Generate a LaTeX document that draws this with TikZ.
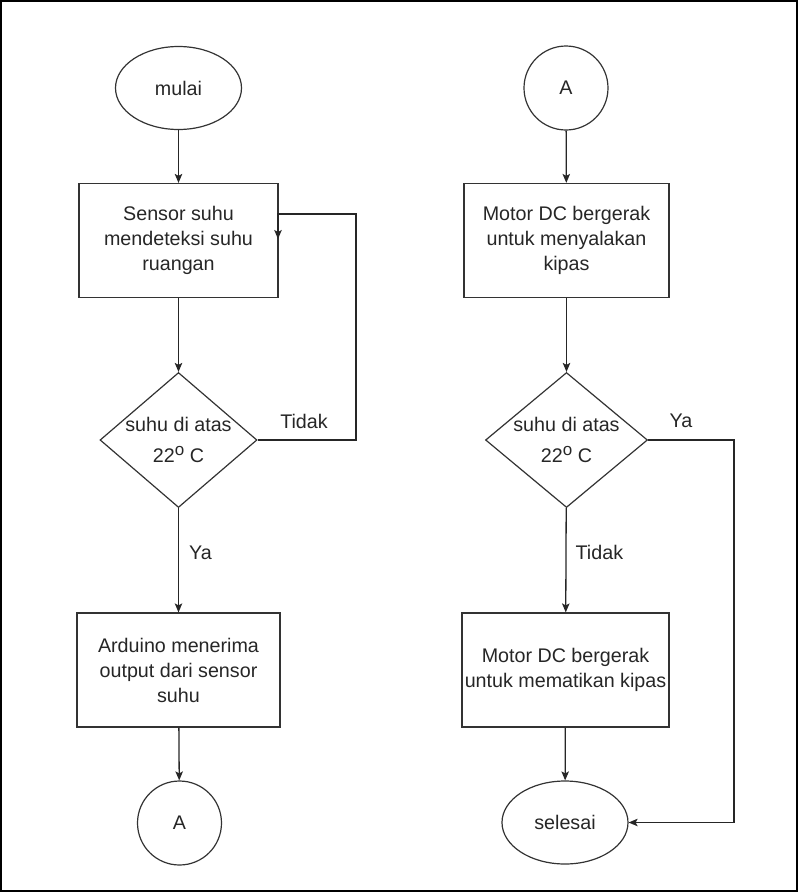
\documentclass[tikz,border=0pt]{standalone}
\usepackage{fontspec}
\setmainfont{Liberation Sans}
\usetikzlibrary{shapes.geometric,arrows.meta}
\newcommand{\degsup}{\raisebox{7pt}{\fontsize{17}{17}\selectfont o}}
\begin{document}
\begin{tikzpicture}[x=1pt,y=-1pt,
  every node/.style={font=\fontsize{19.7}{25}\selectfont, text=black!85, align=center},
  proc/.style={draw=black!80, line width=1.2pt, rectangle, minimum height=114pt, inner sep=0pt},
  term/.style={draw=black!80, line width=1.2pt, ellipse, minimum width=126pt, minimum height=83pt, inner sep=0pt},
  conn/.style={draw=black!80, line width=1.2pt, circle, minimum size=84pt, inner sep=0pt},
  dec/.style={draw=black!80, line width=1.2pt, diamond, minimum width=160pt, minimum height=135pt, inner sep=0pt},
  dtext/.style={font=\fontsize{19.7}{31.5}\selectfont, inner sep=0pt},
  flow/.style={draw=black!85, line width=1.3pt, -{Stealth[length=9pt,width=7.5pt,inset=2pt]}},
  lbl/.style={inner sep=0pt}
]
\useasboundingbox (0,0) rectangle (798,892);
\draw[line width=2pt] (1,1) rectangle (796.5,890.5);

% left column
\node[term] (mulai) at (178.5,88) {mulai};
\node[proc, minimum width=199pt] (s1) at (178.5,240.5) {Sensor suhu\\mendeteksi suhu\\ruangan};
\node[dec, minimum width=157pt] (d1) at (178.5,440) {};
\node[dtext] (d1t) at (d1.center) {suhu di atas\\22\degsup\ C};
\node[proc, minimum width=203pt] (ard) at (178.5,670) {Arduino menerima\\output dari sensor\\suhu};
\node[conn] (a1) at (179.5,823) {A};

% right column
\node[conn] (a2) at (566,88) {A};
\node[proc, minimum width=205pt] (m1) at (566.5,240.5) {Motor DC bergerak\\untuk menyalakan\\kipas};
\node[dec, minimum width=162pt] (d2) at (566.5,440) {};
\node[dtext] (d2t) at (d2.center) {suhu di atas\\22\degsup\ C};
\node[proc, minimum width=207pt] (m2) at (565.5,670) {Motor DC bergerak\\untuk mematikan kipas};
\node[term] (selesai) at (565,822.5) {selesai};

% connectors left
\draw[flow] (mulai) -- (s1);
\draw[flow] (s1) -- (d1);
\draw[flow] (d1) -- node[lbl, pos=0.43, right=10pt] (ya1) {Ya} (ard);
\draw[flow] (ard) -- (a1);
\coordinate (lp1) at (356,214);
\coordinate (lp2) at (278,214);
\coordinate (lp3) at (278,239);
\draw[flow] (d1.east) -| (lp1) -- (lp2) -- (lp3);
\node[lbl] (tidak1) at (304,421) {Tidak};

% connectors right
\draw[flow] (a2) -- (m1);
\draw[flow] (m1) -- (d2);
\draw[flow] (d2) -- node[lbl, pos=0.43, right=9pt] (tidak2) {Tidak} (m2);
\draw[flow] (m2) -- (selesai);
\coordinate (yc) at (734,822.5);
\draw[flow] (d2.east) -| (yc) -- (selesai.east);
\node[lbl] (ya2) at (681,421) {Ya};
\end{tikzpicture}
\end{document}
